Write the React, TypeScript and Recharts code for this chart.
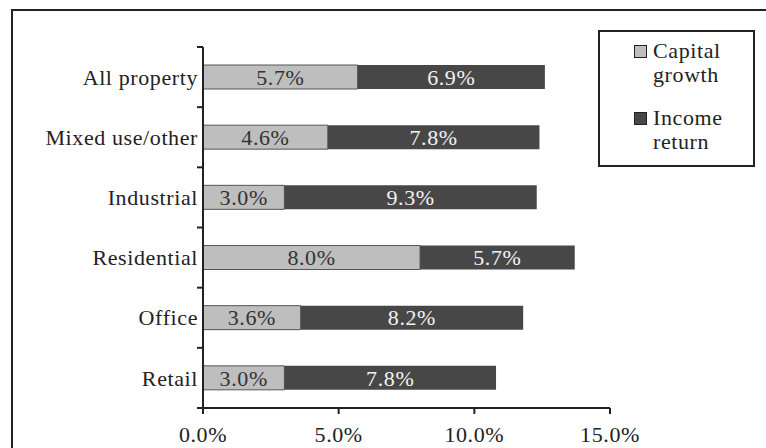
import React from 'react';
import { BarChart, Bar, XAxis, YAxis, LabelList } from 'recharts';

const categories = ['All property', 'Mixed use/other', 'Industrial', 'Residential', 'Office', 'Retail'];
const capitalGrowth = [5.7, 4.6, 3.0, 8.0, 3.6, 3.0];
const incomeReturn = [6.9, 7.8, 9.3, 5.7, 8.2, 7.8];
const xTicks = [0, 5, 10, 15];

const data = categories.map((name, i) => ({ name, capital: capitalGrowth[i], income: incomeReturn[i] }));

const FONT = '"Liberation Serif", "Times New Roman", serif';
const LIGHT = '#bebebe';
const DARK = '#474747';
const INK = '#222';
const BAND = 361 / categories.length;
const TXT = { fontSize: 22, letterSpacing: 0.6, fontFamily: FONT };

const pct = (v: any) => `${Number(v).toFixed(1)}%`;

function CategoryTick(props: any) {
  const { x, y, payload, index } = props;
  const last = index === categories.length - 1;
  return (
    <g>
      <text x={x - 5} y={y} dy="0.35em" textAnchor="end" fill={INK} style={TXT}>
        {payload.value}
      </text>
      <line x1={x - 6} x2={x} y1={y - BAND / 2} y2={y - BAND / 2} stroke={INK} strokeWidth={2} />
      {last && <line x1={x - 6} x2={x} y1={y + BAND / 2} y2={y + BAND / 2} stroke={INK} strokeWidth={2} />}
    </g>
  );
}

function LegendBox() {
  const items = [
    { color: LIGHT, lines: ['Capital', 'growth'] },
    { color: DARK, lines: ['Income', 'return'] },
  ];
  return (
    <div
      style={{
        position: 'absolute',
        left: 598,
        top: 30,
        width: 153,
        height: 133,
        border: `2px solid ${INK}`,
        fontFamily: FONT,
        fontSize: 22,
        letterSpacing: 0.6,
        color: INK,
        lineHeight: '24px',
      }}
    >
      {items.map((it, i) => (
        <div key={i} style={{ display: 'flex', marginTop: i ? 19 : 7, marginLeft: 34 }}>
          <div style={{ width: 11, height: 11, background: it.color, border: `1px solid ${INK}`, marginTop: 6, marginRight: 6 }} />
          <div>
            {it.lines.map((l) => (
              <div key={l}>{l}</div>
            ))}
          </div>
        </div>
      ))}
    </div>
  );
}

export default function App() {
  return (
    <div style={{ position: 'fixed', left: 0, top: 0, width: 766, height: 448, overflow: 'hidden', background: '#fff' }}>
      <div style={{ position: 'absolute', left: 11, top: 9, width: 800, height: 500, border: `2px solid ${INK}` }} />
      <div style={{ position: 'absolute', left: 0, top: 0 }}>
        <BarChart
          width={766}
          height={448}
          data={data}
          layout="vertical"
          margin={{ top: 47, right: 156, bottom: 0, left: 8 }}
          style={{ fontFamily: FONT }}
        >
          <XAxis
            type="number"
            domain={[0, 15]}
            ticks={xTicks}
            tickFormatter={pct}
            height={40}
            tickSize={6}
            tickMargin={12}
            stroke={INK}
            strokeWidth={2}
            tick={{ fill: INK, ...TXT }}
            allowDataOverflow
          />
          <YAxis
            type="category"
            dataKey="name"
            width={195}
            tickSize={0}
            tickMargin={0}
            tickLine={false}
            stroke={INK}
            strokeWidth={2}
            tick={<CategoryTick />}
            interval={0}
          />
          <Bar dataKey="capital" name="Capital growth" stackId="a" fill={LIGHT} stroke="#555" strokeWidth={1} barSize={24} isAnimationActive={false}>
            <LabelList dataKey="capital" position="center" formatter={pct} fill="#333" style={TXT} />
          </Bar>
          <Bar dataKey="income" name="Income return" stackId="a" fill={DARK} barSize={24} isAnimationActive={false}>
            <LabelList dataKey="income" position="center" formatter={pct} fill="#f2f2f2" style={TXT} />
          </Bar>
        </BarChart>
      </div>
      <LegendBox />
    </div>
  );
}
